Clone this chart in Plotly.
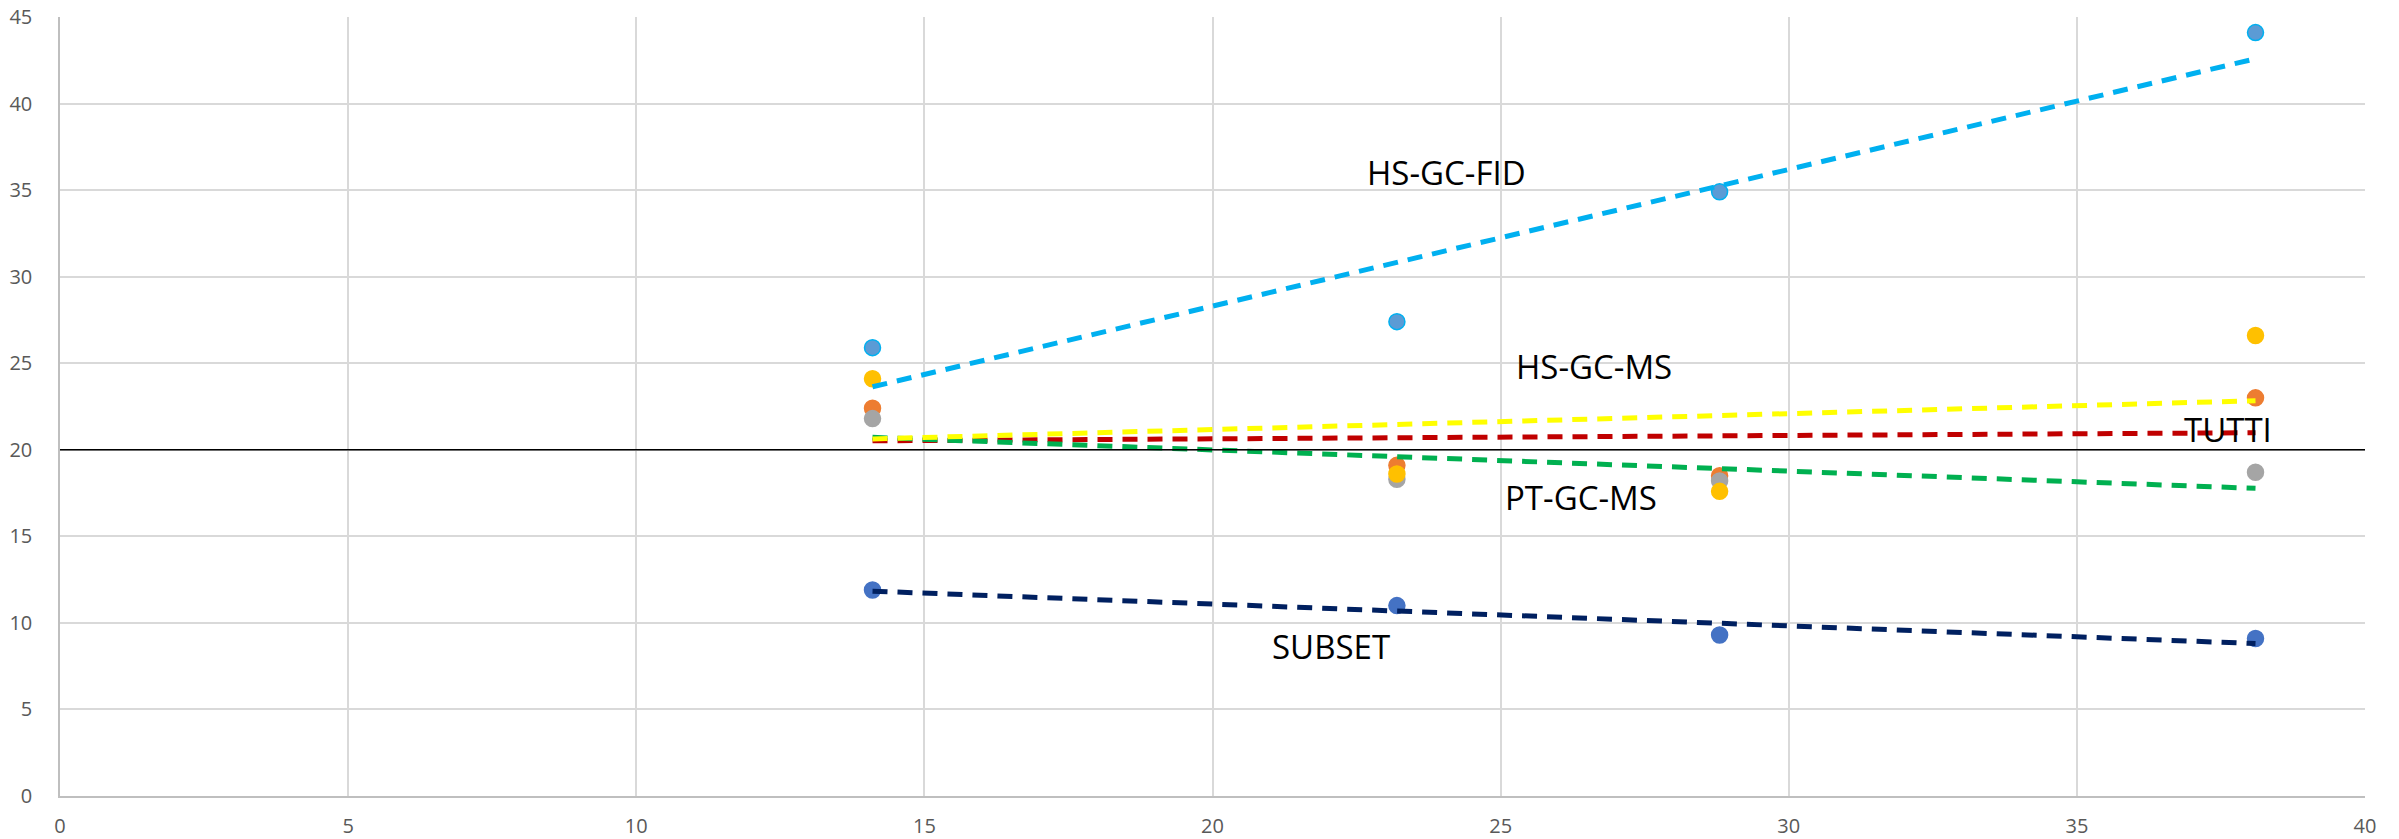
import numpy as np
import plotly.graph_objects as go

# ---- data ----
x_vals = [14.1, 23.2, 28.8, 38.1]
hs_gc_fid = [25.9, 27.4, 34.9, 44.1]      # light blue points
tutti = [22.4, 19.1, 18.5, 23.0]          # orange points
pt_gc_ms = [21.8, 18.3, 18.2, 18.7]       # gray points
hs_gc_ms = [24.1, 18.6, 17.6, 26.6]       # yellow points
subset = [11.9, 11.0, 9.3, 9.1]           # dark blue points
reference_level = 20

series_names = ["HS-GC-FID", "TUTTI", "PT-GC-MS", "HS-GC-MS", "SUBSET"]
series_values = [hs_gc_fid, tutti, pt_gc_ms, hs_gc_ms, subset]
marker_fill = ["#5B9BD5", "#ED7D31", "#A5A5A5", "#FFC000", "#4472C4"]
marker_line = ["#00B0F0", "#ED7D31", "#A5A5A5", "#FFC000", "#4472C4"]
trend_color = ["#00B0F0", "#C00000", "#00B050", "#FFFF00", "#002060"]

label_text = ["HS-GC-FID", "HS-GC-MS", "TUTTI", "PT-GC-MS", "SUBSET"]
label_x = [24.06, 26.62, 37.63, 26.39, 22.06]
label_y = [36.0, 24.8, 21.15, 17.25, 8.65]

fig = go.Figure()

# markers
for name, vals, fc, lc in zip(series_names, series_values, marker_fill, marker_line):
    fig.add_trace(go.Scatter(
        x=x_vals, y=vals, mode="markers", name=name,
        marker=dict(size=16, color=fc, line=dict(color=lc, width=1.5)),
        showlegend=False,
    ))

# linear trend lines
xa = np.array(x_vals)
for name, vals, tc in zip(series_names, series_values, trend_color):
    m, b = np.polyfit(xa, np.array(vals), 1)
    xs = [xa.min(), xa.max()]
    fig.add_trace(go.Scatter(
        x=xs, y=[m * v + b for v in xs], mode="lines", name=name + " trend",
        line=dict(color=tc, width=5, dash="15px,10px"),
        showlegend=False, hoverinfo="skip",
    ))

# reference horizontal line
fig.add_trace(go.Scatter(
    x=[0, 40], y=[reference_level, reference_level], mode="lines",
    line=dict(color="#000000", width=1.6), showlegend=False, hoverinfo="skip",
))

for t, lx, ly in zip(label_text, label_x, label_y):
    fig.add_annotation(x=lx, y=ly, text=t, showarrow=False,
                       font=dict(family="Open Sans", size=33, color="#000000"),
                       xanchor="center", yanchor="middle")

fig.update_layout(
    width=2399, height=839,
    margin=dict(l=60, r=34, t=17, b=43),
    paper_bgcolor="white", plot_bgcolor="white",
    font=dict(family="Open Sans", size=20, color="#595959"),
)
fig.update_xaxes(range=[0, 40], dtick=5, tick0=0, showgrid=True,
                 gridcolor="#D9D9D9", gridwidth=1.5, zeroline=False,
                 showline=True, linecolor="#BFBFBF", linewidth=1.5,
                 ticks="", ticklabelstandoff=11, automargin=False,
                 tickfont=dict(family="Open Sans", size=20, color="#595959"))
fig.update_yaxes(range=[0, 45], dtick=5, tick0=0, showgrid=True,
                 gridcolor="#D9D9D9", gridwidth=1.5, zeroline=False,
                 showline=True, linecolor="#BFBFBF", linewidth=1.5,
                 ticks="", ticklabelstandoff=22, automargin=False,
                 tickfont=dict(family="Open Sans", size=20, color="#595959"))

fig.write_html("out.html")
